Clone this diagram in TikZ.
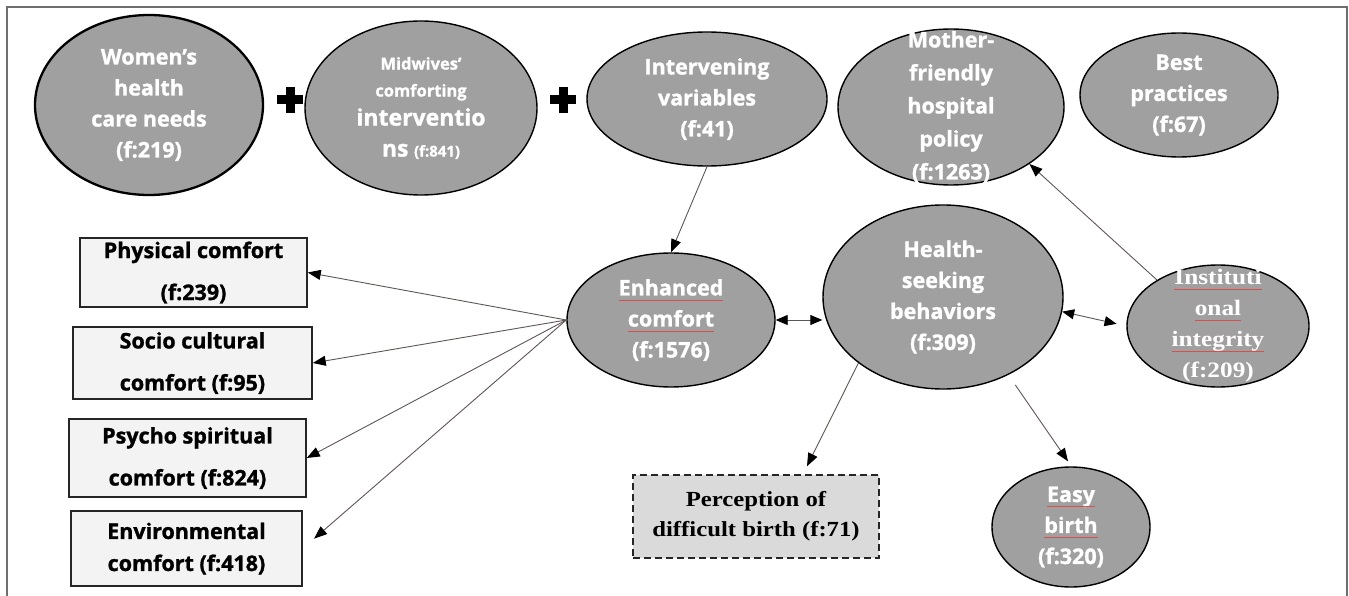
\documentclass[tikz,border=0pt]{standalone}
\usepackage{fontspec}
\setmainfont{Open Sans}[BoldFeatures={FakeBold=1.2}]
\newfontfamily\timesfont{Liberation Serif}[FakeStretch=1.15]
\usepackage{tikz}
\usetikzlibrary{shapes,arrows.meta,positioning,calc}

\definecolor{ovalgray}{RGB}{160,160,160}
\definecolor{boxgray}{RGB}{243,243,243}
\definecolor{dashgray}{RGB}{218,218,218}
\definecolor{linkbrown}{RGB}{95,85,85}
\definecolor{framegray}{RGB}{110,110,110}
\definecolor{spellred}{RGB}{215,80,80}

% word with the red spell-check mark under it
\newcommand{\spell}[1]{\setbox0=\hbox{#1}\rlap{\copy0}\textcolor{spellred}{\rule[-5pt]{\wd0}{0.9pt}}}

\begin{document}
\begin{tikzpicture}[x=1pt, y=-1pt,
    oval/.style={ellipse, draw=black, line width=1.4pt, fill=ovalgray, inner sep=0pt},
    ovaltext/.style={text=white, font=\bfseries\fontsize{21.5}{31}\selectfont, align=center},
    insttext/.style={text=white, font=\timesfont\bfseries\fontsize{22}{31}\selectfont, align=center},
    comfbox/.style={rectangle, draw=black!85, line width=1.5pt, fill=boxgray, inner sep=0pt,
        align=center, font=\bfseries\fontsize{21.5}{42}\selectfont},
    link/.style={draw=linkbrown, line width=0.9pt, -{Triangle[length=13pt,width=10pt,color=black]}},
    both/.style={link, {Triangle[length=12pt,width=10pt,color=black]}-{Triangle[length=12pt,width=10pt,color=black]}}]
    \useasboundingbox (0,0) rectangle (1349,596);
    \draw[framegray, line width=1.6pt] (7,7) rectangle (1347,600);

    % Top row
    \node[oval, line width=2.3pt, minimum width=228pt, minimum height=180pt,
        label={[ovaltext]center:{Women’s\\health\\care needs\\(f:219)}}] (women) at (149,105) {};
    \node[oval, minimum width=232pt, minimum height=174pt,
        label={[ovaltext]center:{{\fontsize{16.5}{24}\selectfont Midwives’}\\[-4pt]{\fontsize{16.5}{24}\selectfont comforting}\\[-2pt]{\fontsize{23}{24}\selectfont interventio}\\{\fontsize{23}{24}\selectfont ns} {\fontsize{15}{24}\selectfont (f:841)}}}] (midw) at (421,108) {};
    \node[oval, minimum width=240pt, minimum height=134pt,
        label={[ovaltext]center:{Intervening\\variables\\(f:41)}}] (interv) at (707,99) {};
    \node[oval, minimum width=226pt, minimum height=156pt,
        label={[ovaltext, font=\bfseries\fontsize{21.5}{33}\selectfont]center:{Mother-\\friendly\\hospital\\policy\\(f:1263)}}] (mother) at (951,107) {};
    \node[oval, minimum width=198pt, minimum height=124pt,
        label={[ovaltext]center:{Best\\practices\\(f:67)}}] (best) at (1179,95) {};
    \foreach \px in {290,563} {
        \draw[line width=9pt] (\px-13,100) -- (\px+13,100) (\px,87) -- (\px,113);
    }

    % Middle row
    \node[oval, minimum width=208pt, minimum height=134pt,
        label={[ovaltext]center:{\spell{Enhanced}\\\spell{comfort}\\(f:1576)}}] (enh) at (671,320) {};
    \node[oval, minimum width=240pt, minimum height=184pt,
        label={[ovaltext]center:{Health-\\seeking\\behaviors\\(f:309)}}] (health) at (943,297) {};
    \node[oval, minimum width=182pt, minimum height=122pt,
        label={[insttext]center:{\spell{Instituti}\\\spell{onal}\\\spell{integrity}\\(f:209)}}] (inst) at (1218,326) {};
    \node[oval, minimum width=158pt, minimum height=120pt,
        label={[ovaltext]center:{\spell{Easy}\\\spell{birth}\\(f:320)}}] (easy) at (1071,527) {};

    % Comfort boxes
    \node[comfbox, minimum width=227pt, minimum height=69pt] (phys) at (193.5,272.5) {Physical comfort\\(f:239)};
    \node[comfbox, minimum width=239pt, minimum height=72pt] (socio) at (192.5,363) {Socio cultural\\comfort (f:95)};
    \node[comfbox, minimum width=237pt, minimum height=78pt] (psycho) at (187.5,458) {Psycho spiritual\\comfort (f:824)};
    \node[comfbox, minimum width=231pt, minimum height=75pt, font=\bfseries\fontsize{21.5}{32}\selectfont] (env) at (186.5,548.5) {Environmental\\comfort (f:418)};
    \node[rectangle, draw=black!85, dashed, dash pattern=on 7pt off 4pt, line width=1.5pt, fill=dashgray,
        minimum width=246pt, minimum height=83pt, align=center,
        font=\timesfont\bfseries\fontsize{21.5}{30}\selectfont] (percep) at (756,516.5) {Perception of\\difficult birth (f:71)};

    % Links
    \draw[link] (interv.south) -- (enh.north);
    \foreach \b in {phys, socio, psycho} {
        \draw[link] (enh.west) -- (\b.east);
    }
    \draw[link, shorten >=15pt] (enh.west) -- (env.east);
    \draw[both] (enh.east) -- (enh.east -| health.west);
    \draw[link] (health.218) -- ($(percep.north)+(51,-8)$);
    \draw[link, shorten <=12pt] (health.-50) -- ($(easy.north)+(-3,-5)$);
    \draw[both, shorten >=10pt] (health.-7) -- (inst.west);
    \draw[link] (inst.143) -- (mother.-36);
\end{tikzpicture}
\end{document}
